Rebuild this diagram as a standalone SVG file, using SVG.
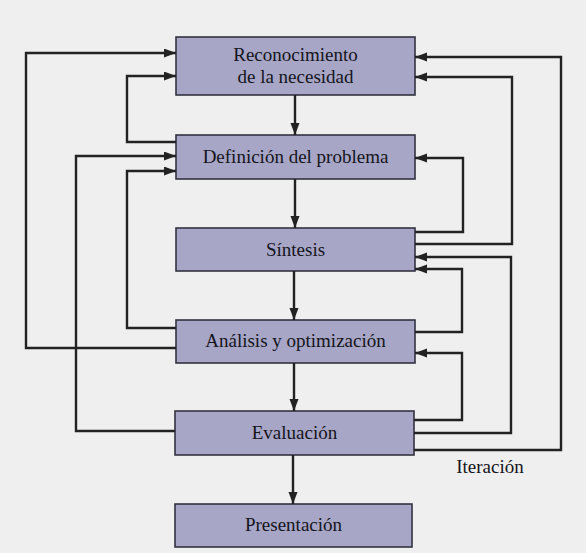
<svg xmlns="http://www.w3.org/2000/svg" width="586" height="553" viewBox="0 0 586 553">
<defs>
<marker id="ah" markerUnits="userSpaceOnUse" markerWidth="13" markerHeight="10" refX="12" refY="4.5" orient="auto">
<path d="M0,0 L12,4.5 L0,9 z" fill="#222"/>
</marker>
<style>
.box{fill:#a7a6c6;stroke:#333340;stroke-width:1.6}
.lbl{font-family:"Liberation Serif","Times New Roman",serif;font-size:19px;fill:#15151c;text-anchor:middle}
.c{fill:none;stroke:#222;stroke-width:2.4;marker-end:url(#ah)}
</style>
</defs>
<rect width="586" height="553" fill="#efefef"/>
<g id="n1"><rect class="box" x="176" y="37" width="239" height="58"/><text class="lbl" x="295.5" y="61">Reconocimiento</text><text class="lbl" x="295.5" y="83">de la necesidad</text></g>
<g id="n2"><rect class="box" x="176" y="135" width="239" height="44"/><text class="lbl" x="295.5" y="163">Definición del problema</text></g>
<g id="n3"><rect class="box" x="176" y="228" width="239" height="43"/><text class="lbl" x="295.5" y="256">Síntesis</text></g>
<g id="n4"><rect class="box" x="176" y="320" width="239" height="43"/><text class="lbl" x="295.5" y="347">Análisis y optimización</text></g>
<g id="n5"><rect class="box" x="175" y="411" width="239" height="44"/><text class="lbl" x="294.5" y="439">Evaluación</text></g>
<g id="n6"><rect class="box" x="175" y="504" width="237" height="43"/><text class="lbl" x="293.5" y="531">Presentación</text></g>
<g id="connectors">
<path class="c" d="M295,95 V135"/>
<path class="c" d="M295,179 V228"/>
<path class="c" d="M294,271 V320"/>
<path class="c" d="M294,363 V411"/>
<path class="c" d="M293,455 V504"/>
<path class="c" d="M176,142 H127 V76 H176"/>
<path class="c" d="M176,328 H127 V171 H176"/>
<path class="c" d="M176,348 H26 V53 H176"/>
<path class="c" d="M175,431 H76 V156 H176"/>
<path class="c" d="M415,232 H463 V158 H415"/>
<path class="c" d="M415,244 H512 V77 H415"/>
<path class="c" d="M415,332 H462 V269 H415"/>
<path class="c" d="M414,433 H511 V257 H415"/>
<path class="c" d="M414,420 H462 V353 H415"/>
<path class="c" d="M414,450 H561 V57 H415"/>
</g>
<text class="lbl" x="490" y="473">Iteración</text>
</svg>
